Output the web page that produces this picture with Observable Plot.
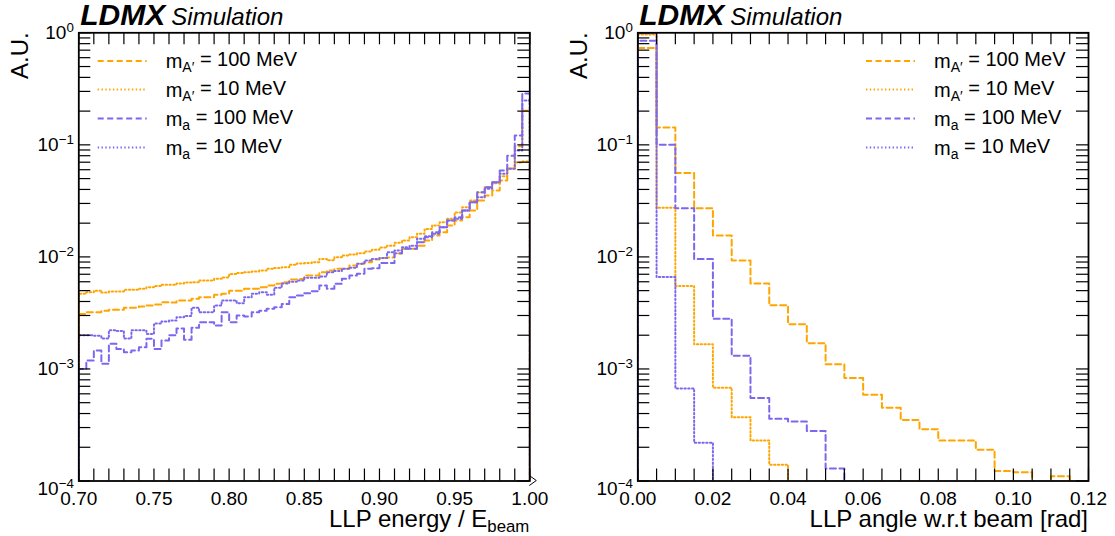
<!DOCTYPE html>
<html><head><meta charset="utf-8">
<script src="https://cdn.jsdelivr.net/npm/d3@7"></script>
<script src="https://cdn.jsdelivr.net/npm/@observablehq/plot@0.6"></script>
<style>
body{margin:0;background:#fff;}
#wrap{display:flex;width:1115px;height:536px;overflow:hidden;}
svg{display:block;}
</style></head><body><div id="wrap"></div>
<script>
// ---------------- DATA ----------------
const energyEdges = [0.700,0.705,0.710,0.715,0.720,0.725,0.730,0.735,0.740,0.745,0.750,0.755,0.760,0.765,0.770,0.775,0.780,0.785,0.790,0.795,0.800,0.805,0.810,0.815,0.820,0.825,0.830,0.835,0.840,0.845,0.850,0.855,0.860,0.865,0.870,0.875,0.880,0.885,0.890,0.895,0.900,0.905,0.910,0.915,0.920,0.925,0.930,0.935,0.940,0.945,0.950,0.955,0.960,0.965,0.970,0.975,0.980,0.985,0.990,0.995,1.000];

const energyAp100 = [3.1e-3,3.21e-3,3.21e-3,3.3e-3,3.37e-3,3.37e-3,3.51e-3,3.51e-3,3.6e-3,3.68e-3,
  3.76e-3,3.94e-3,3.92e-3,4.08e-3,4.08e-3,4.23e-3,4.37e-3,4.37e-3,4.59e-3,4.69e-3,
  5.0e-3,5.0e-3,5.19e-3,5.19e-3,5.37e-3,5.56e-3,5.75e-3,5.94e-3,6.3e-3,6.35e-3,
  6.82e-3,6.82e-3,7.3e-3,7.56e-3,7.83e-3,7.83e-3,8.38e-3,8.7e-3,8.97e-3,9.5e-3,
  9.8e-3,9.9e-3,1.07e-2,1.18e-2,1.18e-2,1.26e-2,1.4e-2,1.55e-2,1.66e-2,1.91e-2,
  2.11e-2,2.26e-2,2.6e-2,3.19e-2,3.53e-2,3.91e-2,4.81e-2,6.15e-2,9.7e-2,0.202];

const energyAp10 = [4.69e-3,4.84e-3,5.0e-3,4.8e-3,4.9e-3,4.92e-3,5.08e-3,5.1e-3,5.2e-3,5.37e-3,
  5.5e-3,5.64e-3,5.64e-3,5.8e-3,5.9e-3,5.94e-3,6.16e-3,6.16e-3,6.38e-3,6.56e-3,
  7.03e-3,7.2e-3,7.3e-3,7.4e-3,7.56e-3,7.83e-3,7.96e-3,8.1e-3,8.5e-3,8.75e-3,
  8.8e-3,8.97e-3,9.6e-3,9.35e-3,9.94e-3,1.03e-2,1.05e-2,1.08e-2,1.12e-2,1.16e-2,
  1.21e-2,1.26e-2,1.34e-2,1.4e-2,1.5e-2,1.61e-2,1.77e-2,1.91e-2,2.04e-2,2.19e-2,
  2.49e-2,2.78e-2,3.19e-2,3.75e-2,4.2e-2,4.55e-2,5.25e-2,6.15e-2,6.96e-2,7.1e-2];

const energyA100 = [1.0e-3,1.19e-3,1.46e-3,1.11e-3,1.68e-3,1.51e-3,1.41e-3,1.46e-3,1.56e-3,1.86e-3,
  1.51e-3,1.79e-3,2.0e-3,2.3e-3,1.82e-3,2.33e-3,2.61e-3,2.61e-3,2.44e-3,3.2e-3,
  2.61e-3,3.0e-3,2.94e-3,3.2e-3,3.3e-3,3.44e-3,3.56e-3,3.8e-3,4.37e-3,4.53e-3,
  4.75e-3,4.94e-3,5.56e-3,5.19e-3,5.75e-3,6.38e-3,6.82e-3,7.06e-3,7.83e-3,7.9e-3,
  8.8e-3,8.8e-3,1.08e-2,1.18e-2,1.18e-2,1.35e-2,1.5e-2,1.66e-2,1.84e-2,2.11e-2,
  2.26e-2,2.6e-2,3.08e-2,3.78e-2,4.19e-2,4.64e-2,5.9e-2,8.0e-2,0.121,0.287];

const energyA10 = [2.0e-3,2.0e-3,1.98e-3,1.87e-3,2.21e-3,2.18e-3,1.87e-3,2.21e-3,2.21e-3,2.05e-3,
  2.54e-3,2.65e-3,2.71e-3,2.9e-3,2.97e-3,3.51e-3,3.2e-3,3.2e-3,3.68e-3,4.08e-3,
  4.08e-3,3.86e-3,4.37e-3,4.7e-3,4.84e-3,4.6e-3,5.3e-3,5.79e-3,6.0e-3,6.15e-3,
  6.5e-3,6.5e-3,6.7e-3,7.3e-3,7.5e-3,7.83e-3,8.0e-3,8.7e-3,9.3e-3,9.6e-3,
  9.8e-3,1.1e-2,1.14e-2,1.22e-2,1.26e-2,1.45e-2,1.53e-2,1.61e-2,1.84e-2,2.11e-2,
  2.19e-2,2.6e-2,3.08e-2,3.41e-2,4.05e-2,4.64e-2,5.52e-2,6.11e-2,8.9e-2,0.249];

const angleEdges = [0,0.005,0.010,0.015,0.020,0.025,0.030,0.035,0.040,0.045,0.050,0.055,0.060,0.065,0.070,0.075,0.080,0.085,0.090,0.095,0.100,0.105,0.110,0.115,0.120];

const angleAp100 = [0.73,0.143,0.056,0.0272,0.0155,9.3e-3,5.8e-3,3.7e-3,2.5e-3,1.7e-3,1.1e-3,8.3e-4,5.9e-4,4.5e-4,3.5e-4,2.9e-4,2.3e-4,2.3e-4,1.9e-4,1.23e-4,1.2e-4,0,1.1e-4,0];
const angleAp10  = [0.965,0.0275,5.5e-3,1.66e-3,6.8e-4,3.7e-4,2.3e-4,1.4e-4,0,0,0,0,0,0,0,0,0,0,0,0,0,0,0,0];
const angleA100  = [0.85,0.1,0.0272,9.6e-3,2.8e-3,1.31e-3,5.5e-4,3.6e-4,3.4e-4,2.8e-4,1.29e-4,0,0,0,0,0,0,0,0,0,0,0,0,0];
const angleA10   = [0.99,6.6e-3,6.7e-4,2.2e-4,0,0,0,0,0,0,0,0,0,0,0,0,0,0,0,0,0,0,0,0];

const legendParticle = ["A′","A′","a","a"];
const legendMass = ["100 MeV","10 MeV","100 MeV","10 MeV"];

const energyTickLabels = [0.70,0.75,0.80,0.85,0.90,0.95,1.00];
const angleTickLabels = [0,0.02,0.04,0.06,0.08,0.10,0.12];
const yTickLabels = [1e-4,1e-3,1e-2,1e-1,1];

const energyTitle = ["LLP energy / E","beam"];
const angleTitle = ["LLP angle w.r.t beam [rad]",""];

// ---------------- STYLE / LAYOUT ----------------
const FONT = "'Liberation Sans', Arial, Helvetica, sans-serif";
const H = 536, MT = 32.3, MB = 55.5, TICK = 12;
const ORANGE = "#ffa500", BLUE = "#7b68ee";
const seriesStyle = [
  {color: ORANGE, dash: "6,3.5"},
  {color: ORANGE, dash: "1.4,2.4"},
  {color: BLUE, dash: "6,3.5"},
  {color: BLUE, dash: "1.4,2.4"}
];

function stepPoints(edges, values) {
  const floor = 1e-7;
  const pts = [{x: edges[0], y: floor}];
  values.forEach((v, i) => pts.push({x: edges[i], y: Math.max(v, floor)}));
  pts.push({x: edges[edges.length - 1], y: Math.max(values[values.length - 1], floor)});
  pts.push({x: edges[edges.length - 1], y: floor});
  return pts;
}

const yMinor = [];
[-4,-3,-2,-1].forEach(e => { for (let k = 1; k <= 9; k++) yMinor.push(k * Math.pow(10, e)); });
yMinor.push(1);

function panel(o) {
  const innerW = o.width - o.ml - o.mr;
  const innerH = H - MT - MB;
  const xMinor = d3.range(0, o.nMinor + 1).map(i => o.domain[0] + i * o.minorStep);
  const marks = [];
  o.series.forEach((vals, i) => {
    marks.push(Plot.line(stepPoints(o.edges, vals), {
      x: "x", y: "y", curve: "step-after", stroke: seriesStyle[i].color,
      strokeWidth: 2, strokeDasharray: seriesStyle[i].dash, clip: true
    }));
  });
  marks.push(
    Plot.ruleX(xMinor, {x: d => d, insetTop: innerH - TICK, stroke: "black", strokeWidth: 1.2}),
    Plot.ruleX(xMinor, {x: d => d, insetBottom: innerH - TICK, stroke: "black", strokeWidth: 1.2}),
    Plot.ruleY(yMinor, {y: d => d, insetRight: innerW - TICK, stroke: "black", strokeWidth: 1.2}),
    Plot.ruleY(yMinor, {y: d => d, insetLeft: innerW - TICK, stroke: "black", strokeWidth: 1.2}),
    Plot.frame({stroke: "black", strokeWidth: 1.8}),
    Plot.axisX(o.xLabels, {tickSize: 0, tickPadding: 10, tickFormat: d => d.toFixed(2), fontSize: 19, label: null}),
    Plot.axisY(yTickLabels, {tickSize: 0, tickPadding: 5, tickFormat: d => String(Math.round(Math.log10(d))), fontSize: 19, label: null})
  );
  const svg = Plot.plot({
    width: o.width, height: H,
    marginLeft: o.ml, marginRight: o.mr, marginTop: MT, marginBottom: MB,
    x: {domain: o.domain},
    y: {type: "log", domain: [1e-4, 1]},
    style: {fontFamily: FONT, fontSize: "19px", color: "black", background: "white"},
    marks
  });
  const s = d3.select(svg);
  // superscript exponents for log tick labels
  s.selectAll('g[aria-label="y-axis tick label"] text').each(function() {
    const e = this.textContent;
    const t = d3.select(this);
    t.text("");
    t.append("tspan").text("10");
    t.append("tspan").attr("dy", "-0.55em").attr("font-size", "0.7em").text(e.replace("-", "−"));
    if (e === "-4") {
      const tr = t.attr("transform") || "";
      t.attr("transform", tr + " translate(0,8)");
    }
  });
  const g = s.append("g").attr("font-family", FONT).attr("fill", "black").attr("text-anchor", "start");
  const right = o.width - o.mr;
  // title
  const title = g.append("text").attr("x", o.ml + 2).attr("y", 25);
  title.append("tspan").attr("font-weight", "bold").attr("font-style", "italic").attr("font-size", 30).text("LDMX");
  title.append("tspan").attr("dx", 6).attr("font-style", "italic").attr("font-size", 24).text("Simulation");
  // y title
  g.append("text").attr("transform", `translate(${o.ml - 50},${MT}) rotate(-90)`)
    .attr("text-anchor", "end").attr("font-size", 24).text("A.U.");
  // x title
  const xt = g.append("text").attr("x", right).attr("y", 527).attr("text-anchor", "end").attr("font-size", 24);
  xt.append("tspan").text(o.xTitle[0]);
  if (o.xTitle[1]) xt.append("tspan").attr("dy", "0.3em").attr("font-size", "0.7em").text(o.xTitle[1]);
  // overflow marker
  if (o.overflow) {
    const yb = H - MB;
    g.append("path").attr("d", `M${right},${yb - 5}L${right + 7},${yb}L${right},${yb + 5}`)
      .attr("fill", "none").attr("stroke", "black").attr("stroke-width", 1);
  }
  // legend
  const rows = [28.7, 57.2, 86.2, 115.2];
  legendParticle.forEach((p, i) => {
    const y = MT + rows[i];
    g.append("line").attr("x1", o.legX).attr("x2", o.legX + 49).attr("y1", y).attr("y2", y)
      .attr("stroke", seriesStyle[i].color).attr("stroke-width", 2).attr("stroke-dasharray", seriesStyle[i].dash);
    const t = g.append("text").attr("x", o.legX + 68).attr("y", y).attr("dy", "0.36em").attr("font-size", 20);
    t.append("tspan").text("m");
    t.append("tspan").attr("dy", "0.3em").attr("font-size", "0.7em").text(p);
    t.append("tspan").attr("dy", "-0.3em").text(" = " + legendMass[i]);
  });
  return svg;
}

const wrap = document.getElementById("wrap");
wrap.appendChild(panel({
  width: 558, ml: 78.3, mr: 28.7, domain: [0.70, 1.00], nMinor: 30, minorStep: 0.01,
  edges: energyEdges, series: [energyAp100, energyAp10, energyA100, energyA10],
  xLabels: energyTickLabels, xTitle: energyTitle, overflow: true, legX: 78.3 + 19.4
}));
wrap.appendChild(panel({
  width: 557, ml: 79.3, mr: 27, domain: [0, 0.12], nMinor: 24, minorStep: 0.005,
  edges: angleEdges, series: [angleAp100, angleAp10, angleA100, angleA10],
  xLabels: angleTickLabels, xTitle: angleTitle, overflow: false, legX: 557 - 27 - 222
}));
</script>
</body></html>
